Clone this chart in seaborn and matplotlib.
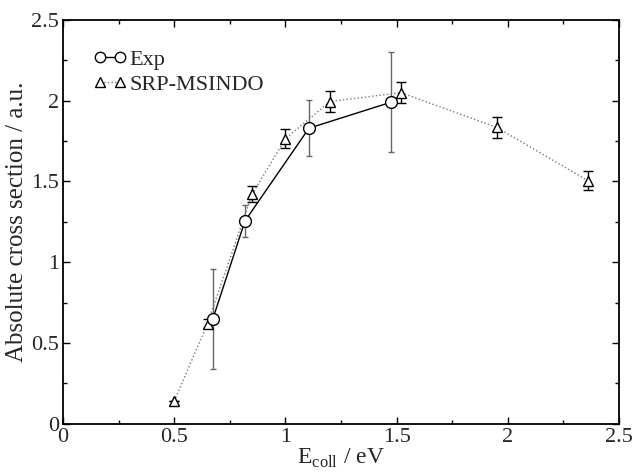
import numpy as np
import pandas as pd
import matplotlib
matplotlib.use("Agg")
import matplotlib.pyplot as plt
from matplotlib.lines import Line2D
from matplotlib.ticker import MultipleLocator, FormatStrFormatter
import seaborn as sns

# Data
exp_x = [0.674, 0.818, 1.106, 1.473]
exp_y = [0.65, 1.255, 1.83, 1.99]
exp_err = [0.31, 0.10, 0.175, 0.31]

srp_x = [0.50, 0.65, 0.85, 1.00, 1.20, 1.52, 1.95, 2.36]
srp_y = [0.14, 0.62, 1.42, 1.765, 1.995, 2.05, 1.835, 1.505]
srp_err = [0.0, 0.03, 0.05, 0.06, 0.065, 0.065, 0.065, 0.06]

sns.set_style("ticks")
plt.rcParams['font.family'] = ['Liberation Serif', 'DejaVu Serif']
plt.rcParams['mathtext.fontset'] = 'custom'
plt.rcParams['mathtext.rm'] = 'Liberation Serif'

fig = plt.figure(figsize=(6.35, 4.74), dpi=100)
ax = fig.add_axes([63/635, (474-423.7)/474, (619-63)/635, (423.7-20)/474])

df_exp = pd.DataFrame({"x": exp_x, "y": exp_y})
df_srp = pd.DataFrame({"x": srp_x, "y": srp_y})

# error bars
ax.errorbar(srp_x, srp_y, yerr=srp_err, fmt='none', ecolor='black', elinewidth=1.0,
            capsize=3.5, capthick=1.0, zorder=2)
ax.errorbar(exp_x, exp_y, yerr=exp_err, fmt='none', ecolor='#666666', elinewidth=1.0,
            capsize=2, capthick=1.0, zorder=2)

sns.lineplot(data=df_srp, x="x", y="y", ax=ax, color='#777777', linestyle=':', linewidth=1.0,
             marker='^', markersize=7.5, markerfacecolor='white', markeredgecolor='black',
             markeredgewidth=1.0, zorder=3, sort=False)
sns.lineplot(data=df_exp, x="x", y="y", ax=ax, color='black', linestyle='-', linewidth=1.0,
             marker='o', markersize=8.5, markerfacecolor='white', markeredgecolor='black',
             markeredgewidth=1.0, zorder=4, sort=False)

ax.set_xlim(0, 2.5)
ax.set_ylim(0, 2.5)
ax.xaxis.set_major_locator(MultipleLocator(0.5))
ax.xaxis.set_minor_locator(MultipleLocator(0.25))
ax.yaxis.set_major_locator(MultipleLocator(0.5))
ax.yaxis.set_minor_locator(MultipleLocator(0.25))
ax.xaxis.set_major_formatter(FormatStrFormatter('%g'))
ax.yaxis.set_major_formatter(FormatStrFormatter('%g'))
ax.tick_params(which='both', direction='in', top=True, right=True, labelsize=16,
               width=1.0, color='black')
ax.tick_params(which='major', length=5, pad=3)
ax.tick_params(which='minor', length=3)
for s in ax.spines.values():
    s.set_linewidth(1.3)
    s.set_color('black')

ax.set_xlabel(r"E$_{\mathrm{coll}}$ / eV", fontsize=17, labelpad=0)
ax.set_ylabel("Absolute cross section / a.u.", fontsize=18, labelpad=2)

handles = [
    Line2D([], [], color='black', linestyle='-', linewidth=1.0, marker='o', markersize=7.5,
           markerfacecolor='white', markeredgecolor='black'),
    Line2D([], [], color='#777777', linestyle=':', linewidth=1.0, marker='^', markersize=7,
           markerfacecolor='white', markeredgecolor='black'),
]
ax.legend(handles, ["Exp", "SRP-MSINDO"], loc='upper left', bbox_to_anchor=(0.039, 0.95),
          frameon=False, numpoints=2, handlelength=1.5, handletextpad=0.12,
          labelspacing=0.2, fontsize=16, borderaxespad=0)

fig.savefig("out.png", dpi=100)
